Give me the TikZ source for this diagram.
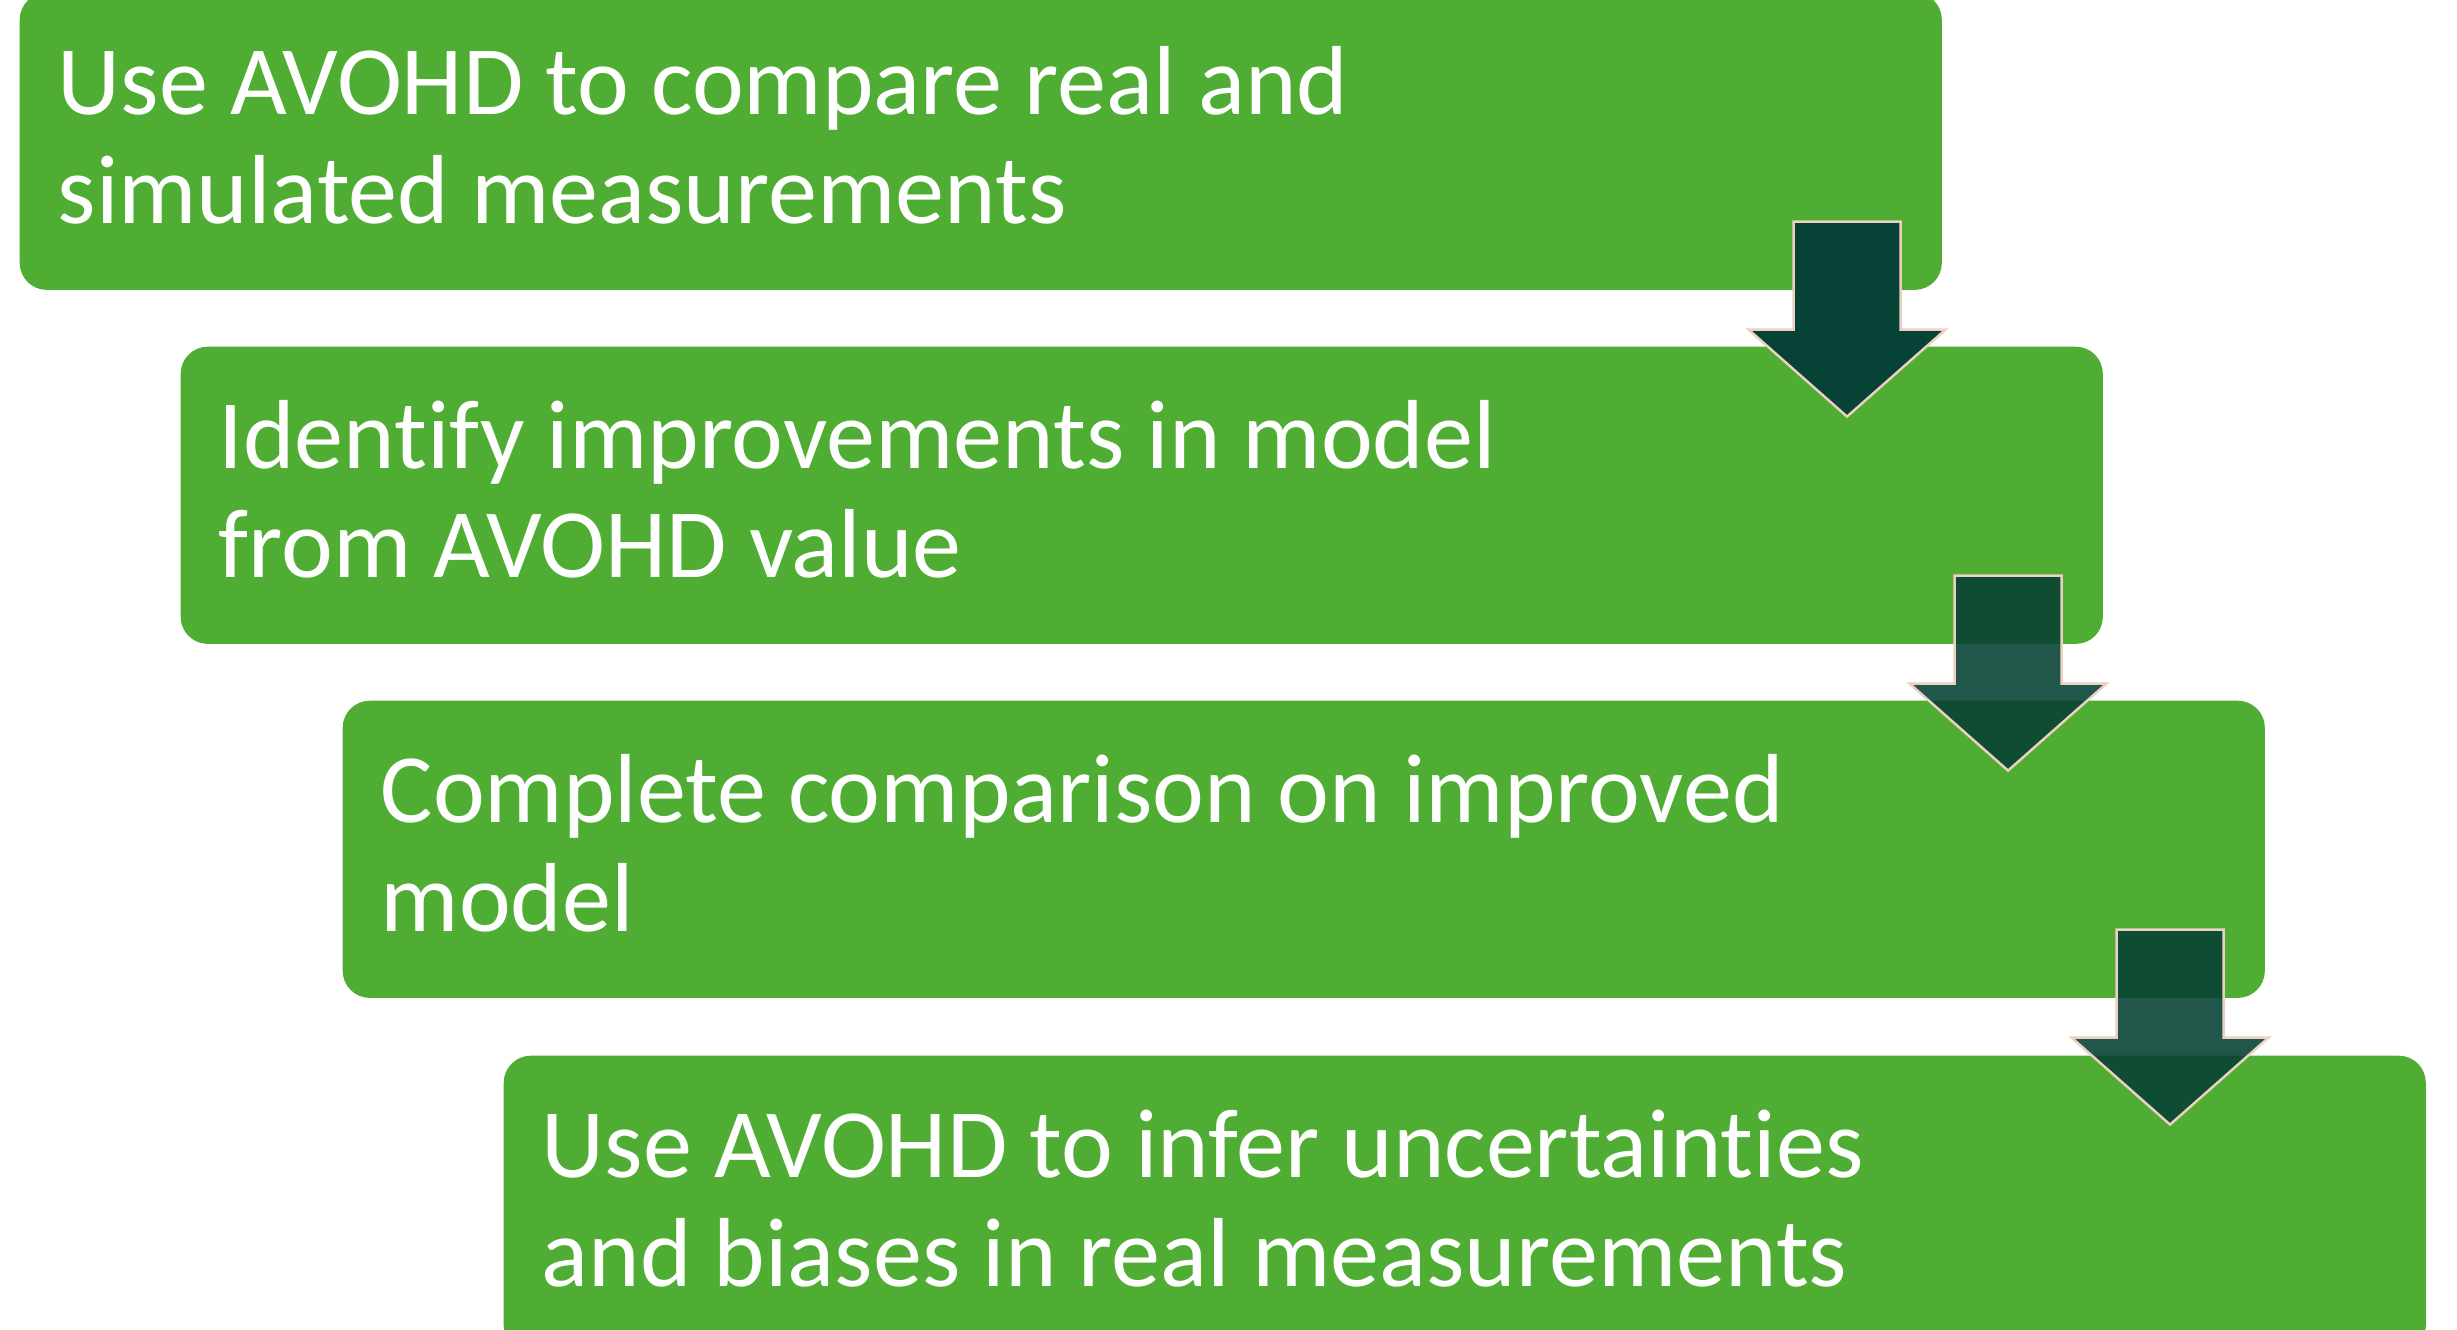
\documentclass[tikz,border=0pt]{standalone}
\usepackage{fontspec}
\setmainfont{Carlito}[Ligatures={NoCommon}]
\usetikzlibrary{calc}

\definecolor{stepgreen}{RGB}{79,173,51}
\definecolor{arrowgreen}{RGB}{6,66,53}
\definecolor{arrowedge}{RGB}{238,208,195}

% block arrow hanging from the lower right of a box
\newcommand{\steparrow}[2]{%
  \filldraw[arrowgreen, fill opacity=#2, draw=arrowedge, line width=0.7pt, line join=miter]
    ($(#1.south east)+(-149,-69)$) -- ($(#1.south east)+(-42,-69)$)
    -- ($(#1.south east)+(-42,39)$) -- ($(#1.south east)+(3,39)$)
    -- ($(#1.south east)+(-95.5,126)$)
    -- ($(#1.south east)+(-194,39)$) -- ($(#1.south east)+(-149,39)$) -- cycle;}

\begin{document}
\begin{tikzpicture}[x=0.01cm, y=-0.01cm,
    stepbox/.style={fill=stepgreen, rounded corners=0.27cm, anchor=north west,
      minimum width=19.21cm, minimum height=2.97cm, inner sep=0pt},
    steptext/.style={text=white, anchor=base west, align=left, inner sep=0pt,
      font=\fontsize{27.9}{30.9}\selectfont}]
    \useasboundingbox (0,0) rectangle (2457,1330);

    % the four steps, each shifted right and down
    \node[stepbox] (s1) at (19,-8) {};
    \node[stepbox] (s2) at (180,346) {};
    \node[stepbox] (s3) at (342,700) {};
    \node[stepbox] (s4) at (503,1055) {};

    % texts of the steps (base = baseline of the second line)
    \node[steptext] (t1) at ($(s1.north west)+(38,231)$) {Use AVOHD to compare real and\\simulated measurements};
    \node[steptext] (t2) at ($(s2.north west)+(38,231)$) {Identify improvements in model\\from AVOHD value};
    \node[steptext] (t3) at ($(s3.north west)+(38,231)$) {Complete comparison on improved\\model};
    \node[steptext] (t4) at ($(s4.north west)+(38,231)$) {Use AVOHD to infer uncertainties\\and biases in real measurements};

    % arrows between the steps
    \steparrow{s1}{1}
    \steparrow{s2}{0.89}
    \steparrow{s3}{0.89}
\end{tikzpicture}
\end{document}
